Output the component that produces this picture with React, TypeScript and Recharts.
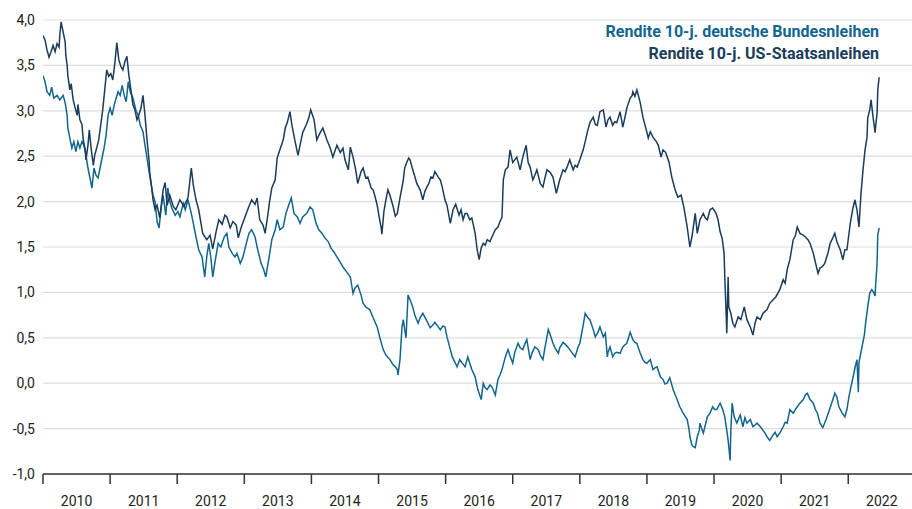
import React from 'react';
import { LineChart, Line, XAxis, YAxis, CartesianGrid } from 'recharts';

const usDates = [
  2010.00, 2010.03, 2010.06, 2010.09, 2010.12, 2010.15, 2010.18, 2010.21, 2010.24, 2010.25, 2010.27, 2010.28, 2010.30, 2010.33, 2010.34, 2010.36, 2010.37, 2010.40, 2010.42, 2010.45,
  2010.48, 2010.51, 2010.52, 2010.55, 2010.58, 2010.60, 2010.63, 2010.64, 2010.67, 2010.69, 2010.72, 2010.75, 2010.77, 2010.80, 2010.83, 2010.86, 2010.89, 2010.92, 2010.95, 2010.98,
  2011.01, 2011.04, 2011.07, 2011.10, 2011.13, 2011.16, 2011.19, 2011.22, 2011.25, 2011.28, 2011.31, 2011.34, 2011.37, 2011.40, 2011.43, 2011.46, 2011.49, 2011.52, 2011.55, 2011.58,
  2011.59, 2011.61, 2011.64, 2011.67, 2011.70, 2011.74, 2011.79, 2011.82, 2011.85, 2011.89, 2011.94, 2011.98, 2012.04, 2012.10, 2012.16, 2012.21, 2012.24, 2012.28, 2012.32, 2012.38,
  2012.44, 2012.49, 2012.53, 2012.58, 2012.62, 2012.67, 2012.71, 2012.74, 2012.79, 2012.83, 2012.88, 2012.91, 2012.95, 2013.01, 2013.06, 2013.11, 2013.16, 2013.19, 2013.23, 2013.28,
  2013.31, 2013.35, 2013.38, 2013.41, 2013.46, 2013.49, 2013.53, 2013.58, 2013.61, 2013.64, 2013.68, 2013.71, 2013.76, 2013.80, 2013.83, 2013.87, 2013.92, 2013.96, 2013.99, 2014.04,
  2014.08, 2014.13, 2014.17, 2014.23, 2014.28, 2014.32, 2014.38, 2014.43, 2014.47, 2014.50, 2014.55, 2014.58, 2014.62, 2014.66, 2014.69, 2014.74, 2014.77, 2014.81, 2014.84, 2014.89,
  2014.92, 2014.95, 2014.98, 2015.01, 2015.04, 2015.05, 2015.08, 2015.11, 2015.14, 2015.17, 2015.22, 2015.25, 2015.28, 2015.32, 2015.37, 2015.39, 2015.42, 2015.45, 2015.47, 2015.51,
  2015.54, 2015.57, 2015.62, 2015.66, 2015.69, 2015.72, 2015.75, 2015.78, 2015.81, 2015.84, 2015.89, 2015.92, 2015.95, 2015.99, 2016.02, 2016.07, 2016.11, 2016.15, 2016.20, 2016.23,
  2016.26, 2016.29, 2016.32, 2016.36, 2016.39, 2016.44, 2016.47, 2016.50, 2016.53, 2016.56, 2016.59, 2016.62, 2016.66, 2016.69, 2016.74, 2016.78, 2016.81, 2016.84, 2016.86, 2016.89,
  2016.93, 2016.96, 2017.00, 2017.03, 2017.06, 2017.11, 2017.15, 2017.20, 2017.23, 2017.26, 2017.30, 2017.33, 2017.36, 2017.41, 2017.45, 2017.48, 2017.51, 2017.56, 2017.60, 2017.65,
  2017.68, 2017.70, 2017.75, 2017.78, 2017.81, 2017.85, 2017.90, 2017.93, 2017.96, 2018.00, 2018.05, 2018.08, 2018.11, 2018.15, 2018.20, 2018.23, 2018.26, 2018.30, 2018.35, 2018.39,
  2018.42, 2018.45, 2018.49, 2018.52, 2018.55, 2018.60, 2018.64, 2018.67, 2018.70, 2018.75, 2018.78, 2018.79, 2018.82, 2018.85, 2018.90, 2018.94, 2018.99, 2019.02, 2019.05, 2019.09,
  2019.14, 2019.17, 2019.21, 2019.24, 2019.28, 2019.33, 2019.37, 2019.42, 2019.46, 2019.51, 2019.55, 2019.60, 2019.64, 2019.67, 2019.72, 2019.75, 2019.79, 2019.84, 2019.87, 2019.90,
  2019.94, 2019.98, 2020.03, 2020.06, 2020.09, 2020.12, 2020.15, 2020.16, 2020.18, 2020.19, 2020.21, 2020.22, 2020.25, 2020.28, 2020.31, 2020.36, 2020.40, 2020.45, 2020.49, 2020.54,
  2020.58, 2020.61, 2020.64, 2020.69, 2020.73, 2020.79, 2020.83, 2020.88, 2020.92, 2020.98, 2021.03, 2021.06, 2021.09, 2021.13, 2021.18, 2021.21, 2021.24, 2021.28, 2021.33, 2021.36,
  2021.40, 2021.43, 2021.48, 2021.52, 2021.55, 2021.58, 2021.61, 2021.65, 2021.70, 2021.73, 2021.77, 2021.80, 2021.83, 2021.88, 2021.92, 2021.95, 2021.98, 2022.03, 2022.07, 2022.10,
  2022.13, 2022.16, 2022.19, 2022.22, 2022.25, 2022.28, 2022.29, 2022.32, 2022.34, 2022.37, 2022.40, 2022.41, 2022.43, 2022.44, 2022.46,
];

const usYields = [
  3.83, 3.78, 3.67, 3.59, 3.65, 3.72, 3.65, 3.74, 3.70, 3.83, 3.98, 3.94, 3.87, 3.76, 3.61, 3.50, 3.39, 3.23, 3.30, 3.12,
  3.03, 2.95, 3.07, 2.90, 2.85, 2.68, 2.57, 2.46, 2.62, 2.79, 2.57, 2.40, 2.51, 2.59, 2.68, 2.84, 3.01, 3.23, 3.45, 3.38,
  3.41, 3.34, 3.52, 3.75, 3.56, 3.49, 3.45, 3.54, 3.60, 3.39, 3.23, 3.07, 3.01, 2.90, 2.96, 3.03, 3.17, 2.95, 2.68, 2.46,
  2.32, 2.21, 2.02, 1.91, 1.96, 1.82, 2.13, 2.21, 1.96, 2.07, 1.95, 1.91, 2.02, 1.95, 2.04, 2.37, 2.18, 2.02, 1.91, 1.65,
  1.58, 1.63, 1.48, 1.67, 1.80, 1.75, 1.85, 1.83, 1.71, 1.78, 1.74, 1.60, 1.71, 1.83, 1.93, 2.02, 1.97, 2.04, 1.80, 1.74,
  1.65, 1.85, 2.02, 2.15, 2.24, 2.48, 2.57, 2.68, 2.81, 2.87, 2.99, 2.84, 2.65, 2.51, 2.62, 2.76, 2.84, 2.92, 3.01, 2.90,
  2.68, 2.76, 2.81, 2.68, 2.59, 2.49, 2.62, 2.54, 2.59, 2.46, 2.35, 2.60, 2.49, 2.35, 2.20, 2.33, 2.37, 2.26, 2.27, 2.15,
  2.13, 2.05, 1.96, 1.83, 1.71, 1.64, 1.89, 2.02, 2.13, 2.07, 1.94, 1.84, 1.87, 2.04, 2.24, 2.37, 2.43, 2.48, 2.46, 2.35,
  2.28, 2.20, 2.13, 2.02, 2.11, 2.16, 2.20, 2.27, 2.26, 2.33, 2.27, 2.24, 2.16, 2.02, 1.96, 1.76, 1.91, 1.97, 1.85, 1.91,
  1.80, 1.87, 1.87, 1.80, 1.82, 1.65, 1.47, 1.36, 1.49, 1.54, 1.52, 1.58, 1.56, 1.61, 1.69, 1.72, 1.78, 1.83, 2.24, 2.35,
  2.38, 2.57, 2.43, 2.46, 2.49, 2.35, 2.49, 2.62, 2.43, 2.38, 2.24, 2.29, 2.35, 2.20, 2.16, 2.26, 2.35, 2.32, 2.27, 2.09,
  2.18, 2.24, 2.35, 2.33, 2.38, 2.46, 2.35, 2.40, 2.38, 2.46, 2.57, 2.66, 2.76, 2.87, 2.93, 2.85, 2.84, 2.99, 3.01, 2.82,
  2.90, 2.93, 2.84, 2.88, 2.87, 2.99, 2.82, 2.92, 3.03, 3.14, 3.17, 3.21, 3.16, 3.23, 3.09, 2.93, 2.79, 2.70, 2.77, 2.71,
  2.66, 2.62, 2.49, 2.57, 2.54, 2.43, 2.27, 2.13, 2.05, 2.07, 1.94, 1.72, 1.50, 1.61, 1.87, 1.65, 1.80, 1.87, 1.82, 1.80,
  1.91, 1.93, 1.87, 1.80, 1.67, 1.60, 1.43, 1.17, 0.77, 0.55, 1.17, 0.84, 0.77, 0.66, 0.62, 0.73, 0.70, 0.84, 0.70, 0.62,
  0.53, 0.66, 0.73, 0.70, 0.77, 0.81, 0.88, 0.92, 0.95, 1.03, 1.14, 1.10, 1.25, 1.36, 1.58, 1.62, 1.72, 1.65, 1.63, 1.61,
  1.58, 1.54, 1.43, 1.30, 1.21, 1.27, 1.28, 1.32, 1.44, 1.54, 1.60, 1.65, 1.56, 1.47, 1.36, 1.47, 1.47, 1.76, 1.93, 2.02,
  1.91, 1.72, 2.09, 2.35, 2.57, 2.71, 2.92, 3.01, 3.12, 2.93, 2.76, 2.84, 2.98, 3.23, 3.37,
];

const deDates = [
  2010.00, 2010.03, 2010.06, 2010.10, 2010.13, 2010.16, 2010.21, 2010.25, 2010.30, 2010.33, 2010.36, 2010.37, 2010.40, 2010.43, 2010.46, 2010.49, 2010.52, 2010.55, 2010.58, 2010.61,
  2010.64, 2010.67, 2010.70, 2010.73, 2010.76, 2010.79, 2010.82, 2010.85, 2010.88, 2010.91, 2010.94, 2010.97, 2011.00, 2011.03, 2011.06, 2011.09, 2011.12, 2011.15, 2011.18, 2011.21,
  2011.24, 2011.27, 2011.30, 2011.34, 2011.39, 2011.42, 2011.45, 2011.49, 2011.52, 2011.55, 2011.59, 2011.64, 2011.67, 2011.70, 2011.73, 2011.76, 2011.79, 2011.83, 2011.86, 2011.89,
  2011.92, 2011.97, 2012.01, 2012.04, 2012.09, 2012.12, 2012.16, 2012.21, 2012.24, 2012.28, 2012.32, 2012.37, 2012.41, 2012.44, 2012.47, 2012.50, 2012.53, 2012.56, 2012.61, 2012.65,
  2012.70, 2012.74, 2012.77, 2012.82, 2012.86, 2012.89, 2012.94, 2012.98, 2013.03, 2013.07, 2013.11, 2013.16, 2013.20, 2013.25, 2013.29, 2013.32, 2013.37, 2013.41, 2013.46, 2013.49,
  2013.53, 2013.58, 2013.62, 2013.67, 2013.70, 2013.74, 2013.79, 2013.83, 2013.87, 2013.93, 2013.98, 2014.02, 2014.07, 2014.11, 2014.16, 2014.20, 2014.25, 2014.29, 2014.34, 2014.38,
  2014.43, 2014.47, 2014.53, 2014.58, 2014.62, 2014.65, 2014.69, 2014.74, 2014.77, 2014.81, 2014.87, 2014.92, 2014.98, 2015.02, 2015.07, 2015.11, 2015.17, 2015.22, 2015.25, 2015.28,
  2015.29, 2015.32, 2015.35, 2015.37, 2015.39, 2015.41, 2015.44, 2015.47, 2015.51, 2015.54, 2015.59, 2015.62, 2015.66, 2015.71, 2015.77, 2015.81, 2015.84, 2015.89, 2015.92, 2015.96,
  2015.99, 2016.02, 2016.07, 2016.10, 2016.14, 2016.17, 2016.21, 2016.26, 2016.29, 2016.33, 2016.36, 2016.39, 2016.44, 2016.48, 2016.53, 2016.56, 2016.59, 2016.62, 2016.66, 2016.69,
  2016.74, 2016.78, 2016.81, 2016.84, 2016.89, 2016.93, 2016.96, 2017.00, 2017.03, 2017.08, 2017.11, 2017.15, 2017.18, 2017.21, 2017.26, 2017.29, 2017.33, 2017.38, 2017.41, 2017.45,
  2017.48, 2017.53, 2017.56, 2017.60, 2017.63, 2017.68, 2017.70, 2017.75, 2017.78, 2017.82, 2017.85, 2017.88, 2017.93, 2017.97, 2018.00, 2018.05, 2018.08, 2018.12, 2018.15, 2018.20,
  2018.23, 2018.27, 2018.30, 2018.35, 2018.38, 2018.41, 2018.42, 2018.45, 2018.49, 2018.52, 2018.55, 2018.60, 2018.64, 2018.67, 2018.70, 2018.75, 2018.79, 2018.82, 2018.85, 2018.90,
  2018.94, 2018.97, 2019.00, 2019.05, 2019.09, 2019.12, 2019.15, 2019.20, 2019.24, 2019.27, 2019.30, 2019.34, 2019.39, 2019.45, 2019.49, 2019.54, 2019.60, 2019.63, 2019.64, 2019.67,
  2019.69, 2019.72, 2019.75, 2019.78, 2019.79, 2019.84, 2019.87, 2019.90, 2019.94, 2019.98, 2020.01, 2020.04, 2020.09, 2020.13, 2020.16, 2020.19, 2020.21, 2020.24, 2020.25, 2020.27,
  2020.30, 2020.34, 2020.39, 2020.43, 2020.46, 2020.49, 2020.54, 2020.58, 2020.61, 2020.64, 2020.69, 2020.73, 2020.76, 2020.79, 2020.83, 2020.88, 2020.91, 2020.94, 2020.98, 2021.03,
  2021.06, 2021.09, 2021.13, 2021.18, 2021.21, 2021.24, 2021.28, 2021.33, 2021.36, 2021.39, 2021.43, 2021.48, 2021.51, 2021.54, 2021.58, 2021.62, 2021.67, 2021.73, 2021.77, 2021.80,
  2021.83, 2021.86, 2021.91, 2021.95, 2021.98, 2022.01, 2022.04, 2022.07, 2022.10, 2022.13, 2022.15, 2022.16, 2022.21, 2022.24, 2022.26, 2022.29, 2022.32, 2022.35, 2022.38, 2022.40,
  2022.41, 2022.43, 2022.44, 2022.46,
];

const deYields = [
  3.39, 3.32, 3.21, 3.17, 3.26, 3.14, 3.17, 3.12, 3.17, 3.09, 2.95, 2.81, 2.70, 2.59, 2.66, 2.55, 2.66, 2.59, 2.66, 2.62,
  2.51, 2.37, 2.26, 2.15, 2.37, 2.29, 2.26, 2.37, 2.48, 2.59, 2.73, 2.95, 3.03, 2.95, 3.06, 3.14, 3.21, 3.17, 3.28, 3.17,
  3.10, 3.32, 3.21, 3.14, 2.99, 2.95, 2.84, 2.77, 2.62, 2.48, 2.29, 2.07, 2.00, 1.78, 1.71, 1.93, 2.07, 1.85, 2.15, 2.00,
  1.93, 1.85, 1.89, 1.83, 1.98, 1.91, 2.02, 1.87, 1.76, 1.61, 1.47, 1.39, 1.17, 1.39, 1.54, 1.39, 1.17, 1.32, 1.54, 1.50,
  1.61, 1.65, 1.50, 1.43, 1.39, 1.43, 1.32, 1.39, 1.54, 1.65, 1.69, 1.61, 1.47, 1.32, 1.25, 1.17, 1.39, 1.58, 1.69, 1.80,
  1.69, 1.72, 1.87, 1.98, 2.04, 1.87, 1.83, 1.76, 1.83, 1.87, 1.94, 1.91, 1.76, 1.69, 1.65, 1.60, 1.56, 1.49, 1.44, 1.39,
  1.33, 1.28, 1.22, 1.17, 0.99, 1.05, 1.08, 0.97, 0.88, 0.84, 0.81, 0.72, 0.62, 0.50, 0.37, 0.31, 0.26, 0.20, 0.18, 0.15,
  0.09, 0.26, 0.62, 0.70, 0.59, 0.50, 0.97, 0.92, 0.84, 0.75, 0.66, 0.72, 0.77, 0.70, 0.61, 0.64, 0.67, 0.62, 0.59, 0.63,
  0.62, 0.51, 0.37, 0.29, 0.23, 0.18, 0.26, 0.21, 0.18, 0.29, 0.22, 0.15, 0.07, -0.07, -0.18, 0.00, -0.05, -0.07, -0.02, -0.04,
  -0.13, 0.04, 0.09, 0.15, 0.29, 0.37, 0.30, 0.22, 0.34, 0.44, 0.39, 0.37, 0.43, 0.48, 0.26, 0.34, 0.40, 0.37, 0.31, 0.26,
  0.39, 0.59, 0.53, 0.44, 0.39, 0.33, 0.39, 0.45, 0.43, 0.40, 0.37, 0.34, 0.29, 0.39, 0.44, 0.64, 0.77, 0.72, 0.70, 0.59,
  0.51, 0.56, 0.62, 0.51, 0.55, 0.29, 0.34, 0.40, 0.29, 0.33, 0.34, 0.33, 0.40, 0.42, 0.44, 0.56, 0.48, 0.45, 0.44, 0.33,
  0.26, 0.23, 0.22, 0.26, 0.15, 0.17, 0.18, 0.07, 0.04, -0.01, 0.00, 0.06, -0.07, -0.18, -0.26, -0.33, -0.40, -0.52, -0.59, -0.68,
  -0.70, -0.71, -0.59, -0.52, -0.44, -0.55, -0.46, -0.37, -0.33, -0.26, -0.29, -0.29, -0.22, -0.29, -0.37, -0.52, -0.63, -0.85, -0.52, -0.22,
  -0.37, -0.44, -0.35, -0.48, -0.38, -0.44, -0.40, -0.48, -0.46, -0.44, -0.48, -0.52, -0.55, -0.59, -0.63, -0.57, -0.54, -0.59, -0.55, -0.48,
  -0.43, -0.44, -0.29, -0.33, -0.29, -0.26, -0.22, -0.18, -0.13, -0.11, -0.18, -0.22, -0.29, -0.33, -0.44, -0.49, -0.40, -0.27, -0.18, -0.11,
  -0.15, -0.26, -0.33, -0.37, -0.29, -0.15, -0.04, 0.06, 0.17, 0.26, -0.10, 0.23, 0.42, 0.53, 0.67, 0.84, 0.99, 1.03, 1.00, 0.96,
  1.10, 1.33, 1.63, 1.71,
];

const yearTicks = [2010, 2011, 2012, 2013, 2014, 2015, 2016, 2017, 2018, 2019, 2020, 2021, 2022];
const yTicks = [-1, -0.5, 0, 0.5, 1, 1.5, 2, 2.5, 3, 3.5, 4];

const usData = usDates.map((t, i) => ({ t, v: usYields[i] }));
const deData = deDates.map((t, i) => ({ t, v: deYields[i] }));

const DE_COLOR = '#12658f';
const US_COLOR = '#1a3d5c';
const W = 912;
const H = 509;
const Y_AXIS_W = 43;
const X_MIN = 2010;
const X_MAX = 2022.95;
const halfYear = ((W - Y_AXIS_W) / (X_MAX - X_MIN)) / 2;

const YearTick = ({ x, y, payload }: any) => (
  <text x={x + halfYear} y={y + 20} textAnchor="middle" fill="#222" fontSize={14} fontFamily="Roboto">
    {payload.value}
  </text>
);

export default function App() {
  return (
    <div style={{ position: 'absolute', left: 0, top: 0, width: W, height: H, background: '#fff', fontFamily: 'Roboto' }}>
      <LineChart width={W} height={H} margin={{ top: 20, right: 0, bottom: 0, left: 0 }}>
        <CartesianGrid vertical={false} stroke="#dddddd" strokeWidth={1.2} />
        <XAxis
          type="number"
          dataKey="t"
          domain={[X_MIN, X_MAX]}
          ticks={yearTicks}
          allowDataOverflow
          height={35}
          tickSize={10}
          axisLine={{ stroke: '#333', strokeWidth: 1.5 }}
          tickLine={{ stroke: '#333', strokeWidth: 1.5 }}
          tick={<YearTick />}
        />
        <YAxis
          type="number"
          domain={[-1, 4]}
          ticks={yTicks}
          width={Y_AXIS_W}
          axisLine={false}
          tickLine={false}
          tick={{ fill: '#222', fontSize: 14, fontFamily: 'Roboto' }}
          tickFormatter={(v: number) => v.toFixed(1).replace('.', ',')}
        />
        <Line data={deData} dataKey="v" stroke={DE_COLOR} strokeWidth={1.5} dot={false} isAnimationActive={false} />
        <Line data={usData} dataKey="v" stroke={US_COLOR} strokeWidth={1.5} dot={false} isAnimationActive={false} />
      </LineChart>
      <div style={{ position: 'absolute', right: 33, top: 21, textAlign: 'right', fontWeight: 700, fontSize: 16, lineHeight: '22px' }}>
        <div style={{ color: DE_COLOR }}>Rendite 10-j. deutsche Bundesnleihen</div>
        <div style={{ color: US_COLOR }}>Rendite 10-j. US-Staatsanleihen</div>
      </div>
    </div>
  );
}
